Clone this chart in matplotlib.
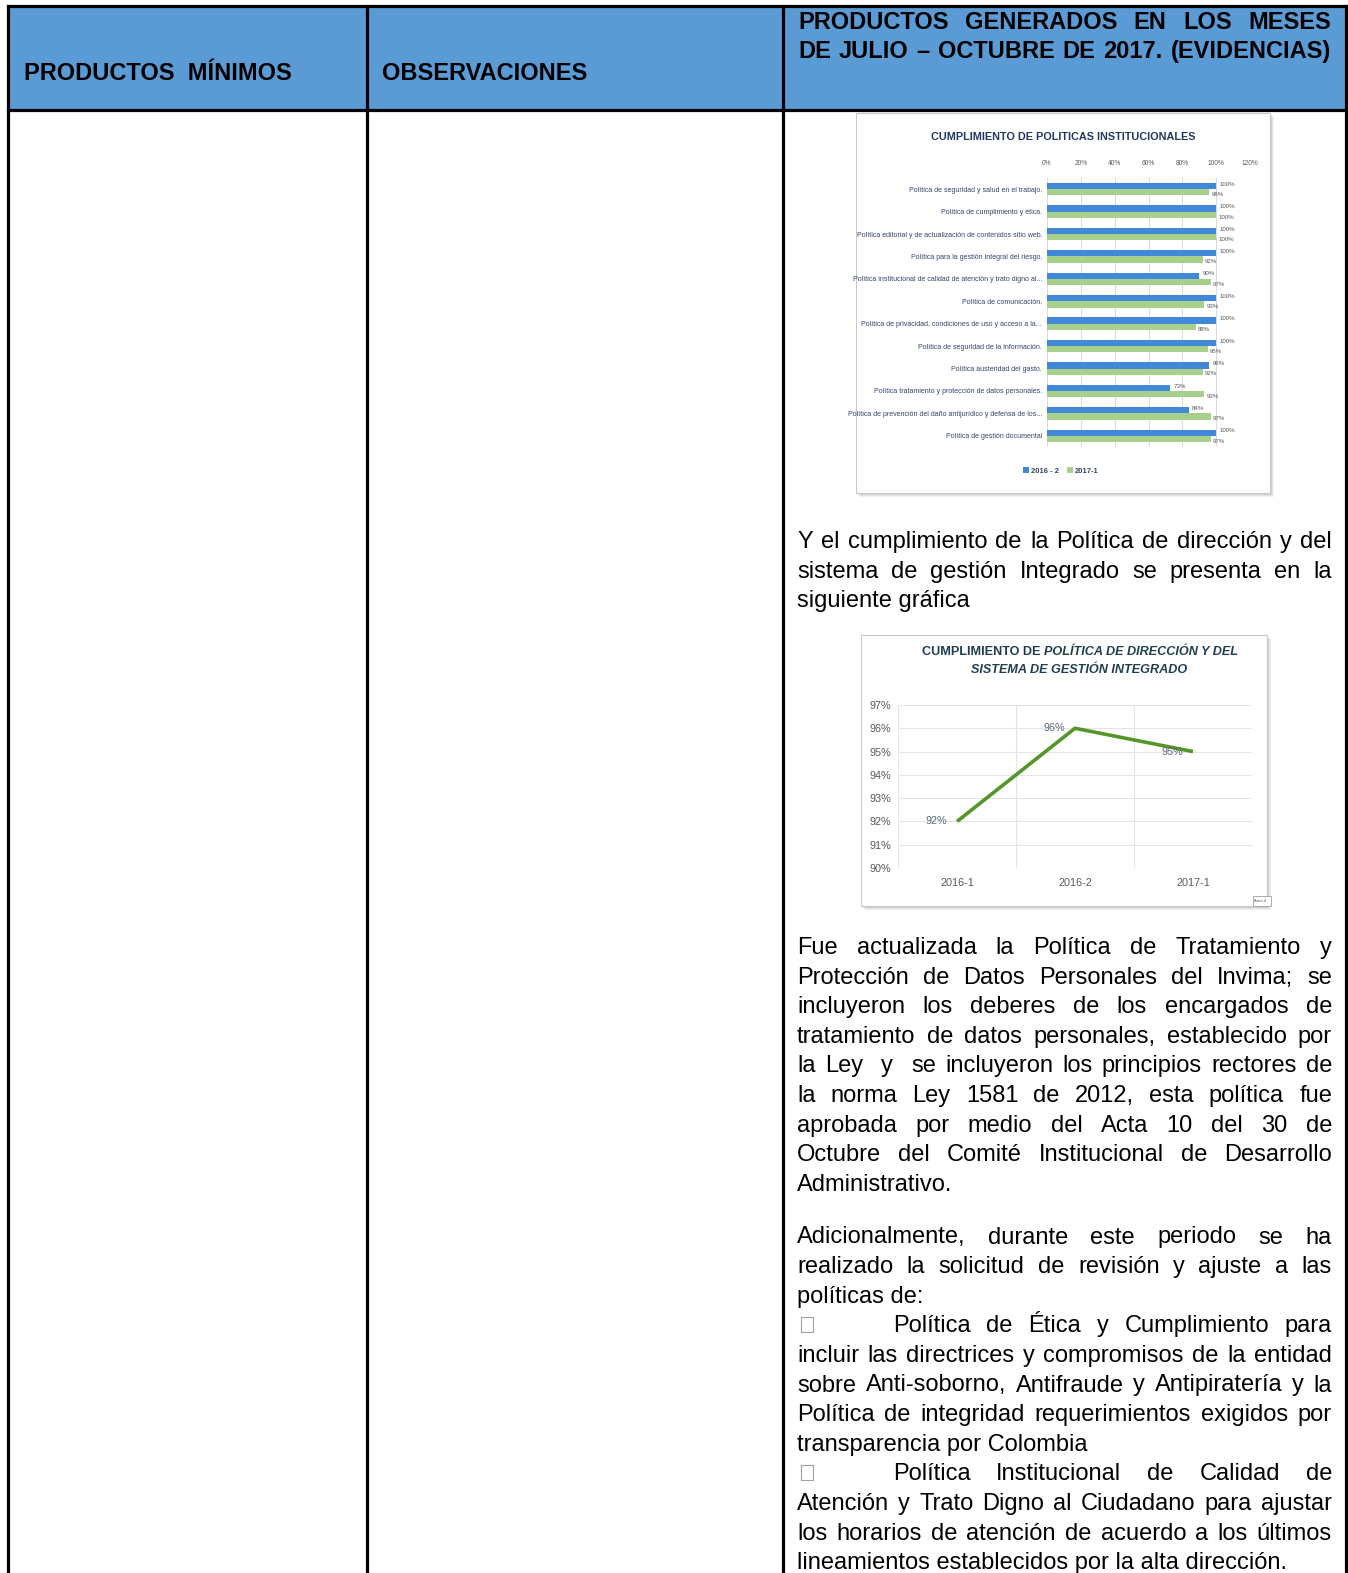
import matplotlib
matplotlib.use('Agg')
import numpy as np
import matplotlib.pyplot as plt
from matplotlib import font_manager as fm
from matplotlib.patches import Rectangle
from matplotlib.ticker import PercentFormatter

# ---------------- data ----------------
header_left = "PRODUCTOS  MÍNIMOS"
header_mid = "OBSERVACIONES"
header_right = ["PRODUCTOS GENERADOS EN LOS MESES",
                "DE JULIO – OCTUBRE DE 2017. (EVIDENCIAS)"]

bar_title = "CUMPLIMIENTO DE POLITICAS INSTITUCIONALES"
bar_categories = [
    "Política de seguridad y salud en el trabajo.",
    "Política de cumplimiento y ética.",
    "Política editorial y de actualización de contenidos sitio web.",
    "Política para la gestión integral del riesgo.",
    "Política institucional de calidad de atención y trato digno al...",
    "Política de comunicación.",
    "Política de privacidad, condiciones de uso y acceso a la...",
    "Política de seguridad de la información.",
    "Política austeridad del gasto.",
    "Política tratamiento y protección de datos personales.",
    "Política de prevención del daño antijurídico y defensa de los...",
    "Política de gestión documental",
]
bar_series_names = ["2016 - 2", "2017-1"]
bar_2016_2 = [1.00, 1.00, 1.00, 1.00, 0.90, 1.00, 1.00, 1.00, 0.96, 0.73, 0.84, 1.00]
bar_2017_1 = [0.96, 1.00, 1.00, 0.92, 0.97, 0.93, 0.88, 0.95, 0.92, 0.93, 0.97, 0.97]
bar_ticks = [0.0, 0.2, 0.4, 0.6, 0.8, 1.0, 1.2]

line_title_plain = "CUMPLIMIENTO DE "
line_title_italic = "POLÍTICA DE DIRECCIÓN Y DEL"
line_title_2 = "SISTEMA DE GESTIÓN INTEGRADO"
line_periods = ["2016-1", "2016-2", "2017-1"]
line_values = [0.92, 0.96, 0.95]
line_yticks = [0.90, 0.91, 0.92, 0.93, 0.94, 0.95, 0.96, 0.97]

# (text, justified, bullet)
para1 = [
    ("Y el cumplimiento de la Política de dirección y del", True, False),
    ("sistema de gestión Integrado se presenta en la", True, False),
    ("siguiente gráfica", False, False),
]
para2 = [
    ("Fue actualizada la Política de Tratamiento y", True, False),
    ("Protección de Datos Personales del Invima; se", True, False),
    ("incluyeron los deberes de los encargados de", True, False),
    ("tratamiento de datos personales, establecido por", True, False),
    ("la Ley  y  se incluyeron los principios rectores de", True, False),
    ("la norma Ley 1581 de 2012, esta política fue", True, False),
    ("aprobada por medio del Acta 10 del 30 de", True, False),
    ("Octubre del Comité Institucional de Desarrollo", True, False),
    ("Administrativo.", False, False),
]
para3 = [
    ("Adicionalmente, durante este periodo se ha", True, False),
    ("realizado la solicitud de revisión y ajuste a las", True, False),
    ("políticas de:", False, False),
    ("Política de Ética y Cumplimiento para", True, True),
    ("incluir las directrices y compromisos de la entidad", True, False),
    ("sobre Anti-soborno, Antifraude y Antipiratería y la", True, False),
    ("Política de integridad requerimientos exigidos por", True, False),
    ("transparencia por Colombia", False, False),
    ("Política Institucional de Calidad de", True, True),
    ("Atención y Trato Digno al Ciudadano para ajustar", True, False),
    ("los horarios de atención de acuerdo a los últimos", True, False),
    ("lineamientos establecidos por la alta dirección.", False, False),
]

# ---------------- setup ----------------
W, H = 1348, 1573
DPI = 100
fig = plt.figure(figsize=(W / DPI, H / DPI), dpi=DPI)
fig.patch.set_facecolor('white')
bg = fig.add_axes([0, 0, 1, 1])
bg.set_xlim(0, W)
bg.set_ylim(H, 0)
bg.axis('off')
renderer = fig.canvas.get_renderer()


def available(name):
    try:
        fm.findfont(fm.FontProperties(family=name), fallback_to_default=False)
        return True
    except Exception:
        return False


NARROW = next((f for f in ['Liberation Sans Narrow', 'Arial Narrow', 'Liberation Sans']
               if available(f)), 'DejaVu Sans')
BODY = 'Liberation Sans' if available('Liberation Sans') else 'DejaVu Sans'


def text_width(s, **kw):
    t = bg.text(0, 0, s, **kw)
    w = t.get_window_extent(renderer).width
    t.remove()
    return w


def fit_size(s, target, base=10.0, **kw):
    return base * target / text_width(s, fontsize=base, **kw)


def px_rect(x0, y0, x1, y1):
    return [x0 / W, 1 - y1 / H, (x1 - x0) / W, (y1 - y0) / H]


def put_line(line, x0, x1, y, justify, **kw):
    tokens = line.split(' ')
    words = [t for t in tokens if t]
    if not justify or len(words) == 1:
        bg.text(x0, y, line, ha='left', va='baseline', zorder=5, **kw)
        return
    # every space is a stretchable gap (double spaces give double gaps)
    widths = [text_width(t, **kw) if t else 0.0 for t in tokens]
    ngaps = len(tokens) - 1
    gap = (x1 - x0 - sum(widths)) / ngaps
    x = x0
    for t, wd in zip(tokens, widths):
        if t:
            bg.text(x, y, t, ha='left', va='baseline', zorder=5, **kw)
        x += wd + gap


def shadow_box(x0, y0, x1, y1):
    for off, a in [(4, 0.10), (3, 0.12), (2, 0.16), (1, 0.2)]:
        bg.add_patch(Rectangle((x0 + off, y0 + off), x1 - x0, y1 - y0,
                               facecolor='#7F7F7F', edgecolor='none', alpha=a, zorder=1))
    bg.add_patch(Rectangle((x0, y0), x1 - x0, y1 - y0, facecolor='white',
                           edgecolor='#C9C9C9', lw=0.8, zorder=2))


# ---------------- table ----------------
XL, XC1, XC2, XR = 7.5, 367, 783, 1345.5
YT, YH = 6, 109.5
bg.add_patch(Rectangle((XL, YT), XR - XL, YH - YT, facecolor='#5B9BD5', edgecolor='none', zorder=1))
LW = 2.3
bg.plot([XL, XR], [YT, YT], color='black', lw=LW, zorder=6, solid_capstyle='projecting')
bg.plot([XL, XR], [YH, YH], color='black', lw=LW, zorder=6)
for xv in (XL, XC1, XC2, XR):
    bg.plot([xv, xv], [YT, H + 5], color='black', lw=LW, zorder=6)

hfs = 17
hkw = dict(fontsize=hfs, family=BODY, fontweight='bold', color='black')
bg.text(24, 79.7, header_left, ha='left', va='baseline', zorder=5, **hkw)
bg.text(382, 79.7, header_mid, ha='left', va='baseline', zorder=5, **hkw)
put_line(header_right[0], 798, 1331, 28.6, True, **hkw)
put_line(header_right[1], 798, 1331, 57.7, True, **hkw)

# ---------------- body text ----------------
bkw = dict(fontsize=17, family=BODY, color='black')
TX0, TX1 = 797, 1332
LS = 29.6


def put_para(lines, y0):
    for i, (txt, just, bullet) in enumerate(lines):
        y = y0 + i * LS
        if bullet:
            bg.add_patch(Rectangle((801, y - 15), 11.5, 15, facecolor='none',
                                   edgecolor='#A0A0A0', lw=0.8, zorder=5))
            put_line(txt, 893, TX1, y, just, **bkw)
        else:
            put_line(txt, TX0, TX1, y, just, **bkw)


put_para(para1, 548)
put_para(para2, 954)
put_para(para3, 1243.5)

# ---------------- bar chart inset ----------------
shadow_box(855.5, 113.3, 1269.5, 493)
BLUE, GREEN = '#4288D8', '#A7D08C'
title_fs = fit_size(bar_title, 264, family=NARROW, fontweight='bold')
bg.text(1063, 140.5, bar_title, ha='center', va='baseline', fontsize=title_fs,
        family=NARROW, fontweight='bold', color='#1F3864', zorder=5)

axb = fig.add_axes(px_rect(1047, 178, 1250, 447))
axb.patch.set_alpha(0)
yb = np.arange(len(bar_categories))
hb = 0.28
axb.barh(yb - hb / 2, bar_2016_2, height=hb, color=BLUE, label=bar_series_names[0], zorder=3)
axb.barh(yb + hb / 2, bar_2017_1, height=hb, color=GREEN, label=bar_series_names[1], zorder=3)
axb.set_ylim(len(bar_categories) - 0.5, -0.5)
axb.set_xlim(0, 1.2)
axb.set_xticks(bar_ticks)
axb.xaxis.set_major_formatter(PercentFormatter(1.0, decimals=0))
axb.xaxis.tick_top()
tick_fs = fit_size("100%", 17, family=NARROW)
cat_fs = fit_size(bar_categories[2], 183, family=NARROW)
axb.tick_params(axis='x', length=0, pad=8.0, labelsize=tick_fs, labelcolor='#595959')
axb.set_yticks(yb)
axb.set_yticklabels(bar_categories)
axb.tick_params(axis='y', length=0, pad=3.5, labelsize=cat_fs, labelcolor='#34436A')
for lbl in axb.get_xticklabels() + axb.get_yticklabels():
    lbl.set_fontfamily(NARROW)
axb.grid(axis='x', color='#D9D9D9', lw=0.7, zorder=0)
axb.set_axisbelow(True)
for sp in axb.spines.values():
    sp.set_visible(False)
lab_fs = tick_fs * 0.92
for yi, v in zip(yb, bar_2016_2):
    axb.annotate(f"{v * 100:.0f}%", (v, yi - hb / 2 - 0.08), xytext=(3, 0), textcoords='offset pixels',
                 ha='left', va='center', fontsize=lab_fs, color='#595959', family=NARROW)
for yi, v in zip(yb, bar_2017_1):
    axb.annotate(f"{v * 100:.0f}%", (v, yi + hb / 2 + 0.1), xytext=(2, 0), textcoords='offset pixels',
                 ha='left', va='center', fontsize=lab_fs, color='#595959', family=NARROW)
handles, labels = axb.get_legend_handles_labels()
leg_fs = fit_size("2016 - 2", 28, family=NARROW, fontweight='bold')
leg = fig.legend(handles, labels, loc='center', bbox_to_anchor=(1061 / W, 1 - 471 / H), ncol=2,
                 frameon=False, fontsize=leg_fs, handlelength=0.7, handleheight=0.7,
                 handletextpad=0.3, columnspacing=1.1, borderpad=0)
for t in leg.get_texts():
    t.set_fontfamily(NARROW)
    t.set_fontweight('bold')
    t.set_color('#34436A')

# ---------------- line chart inset ----------------
shadow_box(860.5, 635, 1266.5, 905.5)
TCOL = '#1F3F50'
tkw = dict(family=NARROW, fontweight='bold', color=TCOL)
tfs = fit_size(line_title_plain + line_title_italic, 314, **tkw, fontstyle='italic')
w_plain = text_width(line_title_plain, fontsize=tfs, **tkw)
w_ital = text_width(line_title_italic, fontsize=tfs, fontstyle='italic', **tkw)
x_start = 1079.5 - (w_plain + w_ital) / 2
bg.text(x_start, 655, line_title_plain, ha='left', va='baseline', fontsize=tfs, zorder=5, **tkw)
bg.text(x_start + w_plain, 655, line_title_italic, ha='left', va='baseline', fontsize=tfs,
        fontstyle='italic', zorder=5, **tkw)
bg.text(1079.5, 673.3, line_title_2, ha='center', va='baseline', fontsize=tfs,
        fontstyle='italic', zorder=5, **tkw)

axl = fig.add_axes(px_rect(898, 705, 1252, 868))
axl.patch.set_alpha(0)
xl = np.arange(len(line_periods)) + 0.5
axl.plot(xl, line_values, color='#55962A', lw=2.6, solid_capstyle='butt', zorder=3)
axl.set_xlim(0, len(line_periods))
axl.set_ylim(line_yticks[0], line_yticks[-1])
axl.set_yticks(line_yticks)
axl.yaxis.set_major_formatter(PercentFormatter(1.0, decimals=0))
axl.set_xticks(xl)
axl.set_xticklabels(line_periods)
axl.set_xticks(np.arange(len(line_periods) + 1), minor=True)
axl.grid(axis='y', which='major', color='#E4E4E4', lw=0.8)
axl.grid(axis='x', which='minor', color='#E4E4E4', lw=0.8)
axl.tick_params(which='both', length=0)
lfs = fit_size("2016-1", 34, family=NARROW)
axl.tick_params(axis='y', pad=5.0, labelsize=lfs, labelcolor='#595959')
axl.tick_params(axis='x', pad=7.0, labelsize=lfs, labelcolor='#595959')
for lbl in axl.get_xticklabels() + axl.get_yticklabels():
    lbl.set_fontfamily(NARROW)
for sp in axl.spines.values():
    sp.set_visible(False)
for xv, v in zip(xl, line_values):
    axl.annotate(f"{v * 100:.0f}%", (xv, v), xytext=(-21, 0), textcoords='offset pixels',
                 ha='center', va='center', fontsize=lfs, color='#59687A', family=NARROW)

# small "Área d" tag
bg.add_patch(Rectangle((1253, 896), 18, 9.5, facecolor='white', edgecolor='#A0A0A0', lw=0.6, zorder=6))
bg.text(1254.5, 901, "Área d", ha='left', va='center', fontsize=3, color='#606060',
        family=NARROW, zorder=7, clip_on=True)

fig.savefig('out.png', dpi=DPI, facecolor='white')
